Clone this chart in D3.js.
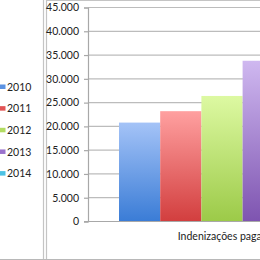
<!DOCTYPE html>
<html>
<head>
<meta charset="utf-8">
<script src="https://cdn.jsdelivr.net/npm/d3@7"></script>
<style>
  html, body { margin: 0; padding: 0; background: #fff; overflow: hidden; }
  svg { display: block; font-family: Lato, "Liberation Sans", sans-serif; }
</style>
</head>
<body>
<svg id="chart" width="260" height="260"></svg>
<script>
// bar chart, one category, one bar per year; the picture is a crop so the
// right part of the plot (2014) falls outside the window.
const years = ["2010", "2011", "2012", "2013", "2014"];
const values = [20800, 23200, 26400, 33800, 36500];
const category = "Indenizações pagas";
const yTicks = [0, 5000, 10000, 15000, 20000, 25000, 30000, 35000, 40000, 45000];

const COLORS = {
  "2010": { top: "#a4c3f7", bot: "#3a7cd6", key: "#5b92e2" },
  "2011": { top: "#ffa0a0", bot: "#d23e3e", key: "#e25454" },
  "2012": { top: "#ddf9a2", bot: "#9cca48", key: "#b2dc62" },
  "2013": { top: "#cfb8f0", bot: "#7e54b0", key: "#9a72cc" },
  "2014": { top: "#a2e6f6", bot: "#38b2d6", key: "#4cc2e4" },
};

const svg = d3.select("#chart");
const fmt = d3.formatLocale({ decimal: ",", thousands: ".", grouping: [3], currency: ["", ""] }).format(",");

const plot = { left: 88, right: 356, top: 7.5, bottom: 221.5 };
const y = d3.scaleLinear().domain([0, 45000]).range([plot.bottom, plot.top]);
// Excel-ish gap width: 0.75 bar on each side of the cluster
const x = d3.scaleBand().domain(years).range([119, 325]).padding(0);
const xCat = d3.scaleBand().domain([category]).range([plot.left, plot.right]);

const defs = svg.append("defs");
years.forEach((yr) => {
  const g = defs.append("linearGradient").attr("id", `grad-${yr}`)
    .attr("x1", 0).attr("y1", 0).attr("x2", 0).attr("y2", 1);
  g.append("stop").attr("offset", "0%").attr("stop-color", COLORS[yr].top);
  g.append("stop").attr("offset", "100%").attr("stop-color", COLORS[yr].bot);
});

// frames: legend box on the left, chart box on the right
svg.append("line").attr("x1", 43.5).attr("x2", 43.5).attr("y1", 0).attr("y2", 260)
  .attr("stroke", "#c4c4c4").attr("stroke-width", 1.2);
svg.append("line").attr("x1", 46.5).attr("x2", 46.5).attr("y1", 0).attr("y2", 260)
  .attr("stroke", "#c4c4c4").attr("stroke-width", 1.2);
svg.append("line").attr("x1", 46).attr("x2", 260).attr("y1", 0.5).attr("y2", 0.5)
  .attr("stroke", "#c4c4c4").attr("stroke-width", 1.2);
svg.append("line").attr("x1", 0).attr("x2", 260).attr("y1", 259.5).attr("y2", 259.5)
  .attr("stroke", "#b8b8b8").attr("stroke-width", 1.2);

// gridlines
svg.append("g").selectAll("line").data(yTicks.slice(1)).join("line")
  .attr("x1", plot.left).attr("x2", plot.right)
  .attr("y1", (d) => y(d)).attr("y2", (d) => y(d))
  .attr("stroke", "#bcbcbc").attr("stroke-width", 1.2);

// bars
svg.append("g").selectAll("rect").data(years).join("rect")
  .attr("x", (d) => x(d))
  .attr("width", x.bandwidth())
  .attr("y", (d, i) => y(values[i]))
  .attr("height", (d, i) => y(0) - y(values[i]))
  .attr("fill", (d) => `url(#grad-${d})`);

// y axis
const yAxis = d3.axisLeft(y).tickValues(yTicks).tickFormat(fmt).tickSize(4).tickPadding(5);
const ya = svg.append("g").attr("transform", `translate(${plot.left},0)`).call(yAxis);
ya.select(".domain").attr("stroke", "#a8a8a8").attr("stroke-width", 1.2);
ya.selectAll(".tick line").attr("stroke", "#a8a8a8").attr("stroke-width", 1.2);
ya.selectAll("text").attr("fill", "#222").attr("font-size", 10.5).attr("font-family", "Lato, sans-serif");

// x axis baseline + category label
svg.append("line").attr("x1", plot.left - 4).attr("x2", plot.right)
  .attr("y1", y(0)).attr("y2", y(0)).attr("stroke", "#a8a8a8").attr("stroke-width", 1.2);
svg.append("text")
  .attr("x", xCat(category) + xCat.bandwidth() / 2 - 0)
  .attr("y", 239.5)
  .attr("text-anchor", "middle")
  .attr("font-size", 10.5).attr("fill", "#222")
  .text(category);

// legend
const leg = svg.append("g").selectAll("g").data(years).join("g")
  .attr("transform", (d, i) => `translate(0,${87 + i * 21.65})`);
leg.append("rect").attr("x", 0).attr("y", -2.5).attr("width", 5.5).attr("height", 4.5)
  .attr("fill", (d) => COLORS[d].key);
leg.append("text").attr("x", 7).attr("y", 3.8).attr("font-size", 10.5).attr("fill", "#222")
  .text((d) => d);
</script>
</body>
</html>
